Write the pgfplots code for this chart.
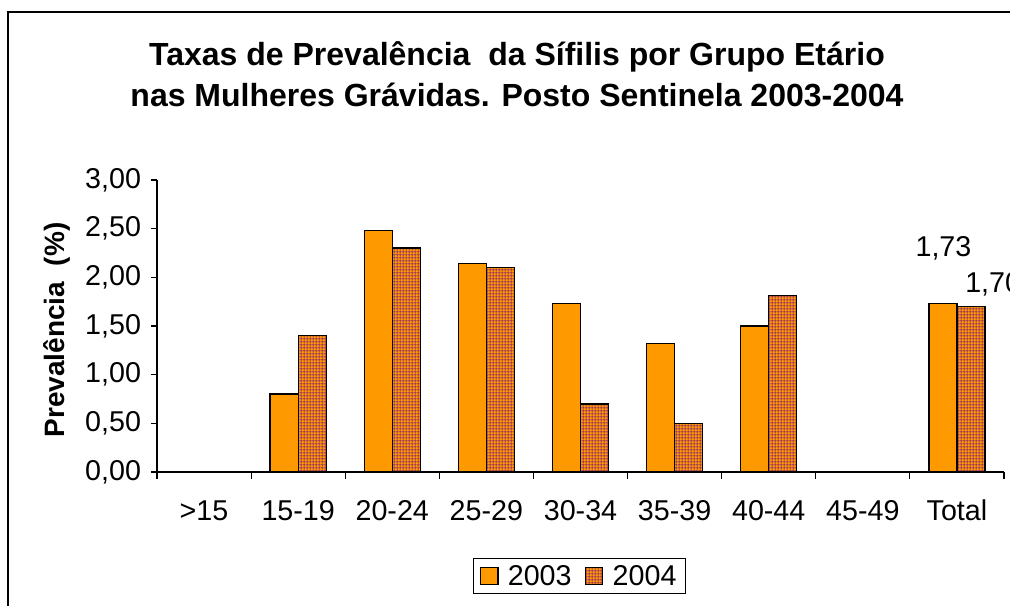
\documentclass[border=0pt]{standalone}
\usepackage{pgfplots}
\pgfplotsset{compat=1.18}
\usepackage{fontspec}
\setmainfont{Liberation Sans}
\usetikzlibrary{patterns.meta}
\definecolor{xlorange}{HTML}{FF9900}
\definecolor{xlplum}{HTML}{993366}
\tikzdeclarepattern{
  name=xlgrid,
  type=uncolored,
  bounding box={(0,0) and (2.4pt,2.4pt)},
  tile size={(2.4pt,2.4pt)},
  code={\draw[line width=0.65pt] (0,1.2pt)--(2.4pt,1.2pt) (1.2pt,0)--(1.2pt,2.4pt);}
}
\begin{document}
\begin{tikzpicture}[x=0.75pt,y=0.75pt]
\useasboundingbox (0,0) rectangle (1010,606);
\clip (0,0) rectangle (1010,606);
\fill[white] (0,0) rectangle (1010,606);
\draw[line width=1pt] (8,-10) -- (8,594) -- (1020,594);
\node[font=\fontsize{24}{28}\selectfont\bfseries, anchor=base, inner sep=0pt] at (517,540) {Taxas de Prevalência\ \ da Sífilis por Grupo Etário};
\node[font=\fontsize{24}{28}\selectfont\bfseries, anchor=base, inner sep=0pt] at (517,499) {nas Mulheres Grávidas. Posto Sentinela 2003-2004};
\node[font=\fontsize{21}{25}\selectfont\bfseries, rotate=90, anchor=base, inner sep=0pt] at (64,276) {Prevalência\ \ (\%)};
\begin{axis}[
  at={(117.75pt,100.5pt)}, anchor=south west,
  scale only axis, width=635.25pt, height=219pt,
  xmin=-0.5, xmax=8.5, ymin=0, ymax=3,
  clip=false,
  axis x line*=bottom, axis y line*=left,
  axis line style={line width=0.8pt, black},
  tick align=outside,
  major tick length=4.5pt,
  minor tick length=5.25pt,
  ytick={0,0.5,1,1.5,2,2.5,3},
  xtick={0,1,2,3,4,5,6,7,8},
  xticklabels={>15,15-19,20-24,25-29,30-34,35-39,40-44,45-49,Total},
  minor xtick={-0.5,0.5,1.5,2.5,3.5,4.5,5.5,6.5,7.5,8.5},
  xtick style={draw=none},
  minor x tick style={draw=black, line width=0.8pt},
  ytick style={line width=0.8pt, black},
  ticklabel style={font=\fontsize{21.5}{25}\selectfont},
  xticklabel style={yshift=-21pt, text height=0.72em, text depth=0.2em},
  yticklabel style={xshift=-4pt, /pgf/number format/fixed, /pgf/number format/fixed zerofill, /pgf/number format/precision=2, /pgf/number format/use comma, /pgf/number format/assume math mode=true},
  ybar=0pt, bar width=21pt,
  legend style={at={(0.373,-0.2945)}, anchor=north west, draw=black, line width=0.8pt,
    font=\fontsize{21.5}{25}\selectfont, legend columns=2, inner xsep=5pt, inner ysep=3pt,
    /tikz/every odd column/.append style={column sep=5pt},
    /tikz/every even column/.append style={column sep=8pt}},
  legend image code/.code={\draw[#1, line width=1pt, draw=black] (0pt,-6.4pt) rectangle (12.8pt,6.4pt);},
]
\addplot[fill=xlorange, draw=black, line width=1pt] coordinates {(1,0.80) (2,2.48) (3,2.14) (4,1.73) (5,1.32) (6,1.50) (8,1.73)};
\addplot[draw=black, line width=1pt, preaction={fill=xlorange}, pattern=xlgrid, pattern color=xlplum] coordinates {(1,1.40) (2,2.30) (3,2.10) (4,0.70) (5,0.50) (6,1.81) (8,1.70)};
\legend{2003,2004}
\node[anchor=base, inner sep=0pt, font=\fontsize{21.5}{25}\selectfont] at (axis cs:7.857,2.209) {1,73};
\node[anchor=base west, inner sep=0pt, font=\fontsize{21.5}{25}\selectfont] at (axis cs:8.086,1.839) {1,70};
\end{axis}
\end{tikzpicture}
\end{document}
